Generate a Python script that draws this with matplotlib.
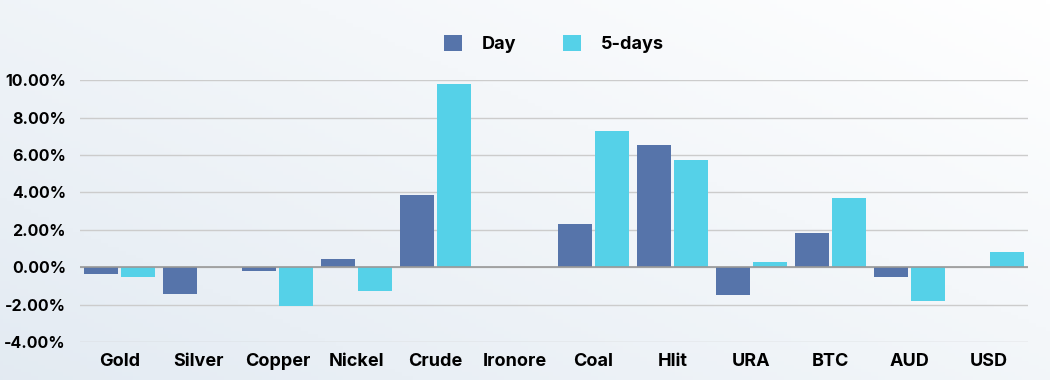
import matplotlib
matplotlib.use("Agg")
import matplotlib.pyplot as plt
import numpy as np

categories = ["Gold", "Silver", "Copper", "Nickel", "Crude", "Ironore",
              "Coal", "Hlit", "URA", "BTC", "AUD", "USD"]
day = [-0.37, -1.45, -0.2, 0.42, 3.85, 0.0, 2.3, 6.52, -1.5, 1.82, -0.5, 0.0]
five_days = [-0.5, 0.02, -2.05, -1.28, 9.78, 0.0, 7.27, 5.72, 0.27, 3.7, -1.82, 0.82]
yticks = [-4, -2, 0, 2, 4, 6, 8, 10]

plt.rcParams['font.family'] = ['Inter', 'DejaVu Sans']

fig = plt.figure(figsize=(10.5, 3.8), dpi=100)

# soft gradient background
bg = fig.add_axes([0, 0, 1, 1], zorder=-10)
xs = np.linspace(0, 1, 300)
ys = np.linspace(0, 1, 100)
X, Y = np.meshgrid(xs, ys)
shade = np.clip(0.55 * (1 - X) + 0.45 * Y, 0, 1)
c0 = np.array([0.89, 0.92, 0.95])
c1 = np.array([1.0, 1.0, 1.0])
img = c1 - (c1 - c0) * shade[..., None]
bg.imshow(img, aspect="auto", extent=[0, 1, 0, 1], origin="upper")
bg.axis("off")

ax = fig.add_axes([0.076, 0.1, 0.903, 0.689])
ax.patch.set_alpha(0)

x = np.arange(len(categories))
w = 0.43
ax.bar(x - 0.235, day, w, color="#5674aa", label="Day", zorder=3)
ax.bar(x + 0.235, five_days, w, color="#55d1e8", label="5-days", zorder=3)

ax.set_xlim(-0.5, len(categories) - 0.5)
ax.set_ylim(-4, 10)
ax.set_yticks(yticks)
ax.set_yticklabels(["{:.2f}%".format(v) for v in yticks], fontsize=11.5, fontweight="bold")
ax.set_xticks(x)
ax.set_xticklabels(categories, fontsize=13, fontweight="bold")
ax.tick_params(length=0, pad=10)
ax.tick_params(axis="x", pad=8)

ax.grid(axis="y", color="#cccccc", linewidth=1, zorder=0)
ax.axhline(0, color="#999999", linewidth=1.2, zorder=4)
for s in ax.spines.values():
    s.set_visible(False)

ax.legend(loc="lower center", bbox_to_anchor=(0.5, 1.04), ncol=2, frameon=False,
          prop={"weight": "bold", "size": 13}, handlelength=1.0, handleheight=1.0,
          columnspacing=2.6, handletextpad=1.1)

plt.savefig("out.png", dpi=100)
